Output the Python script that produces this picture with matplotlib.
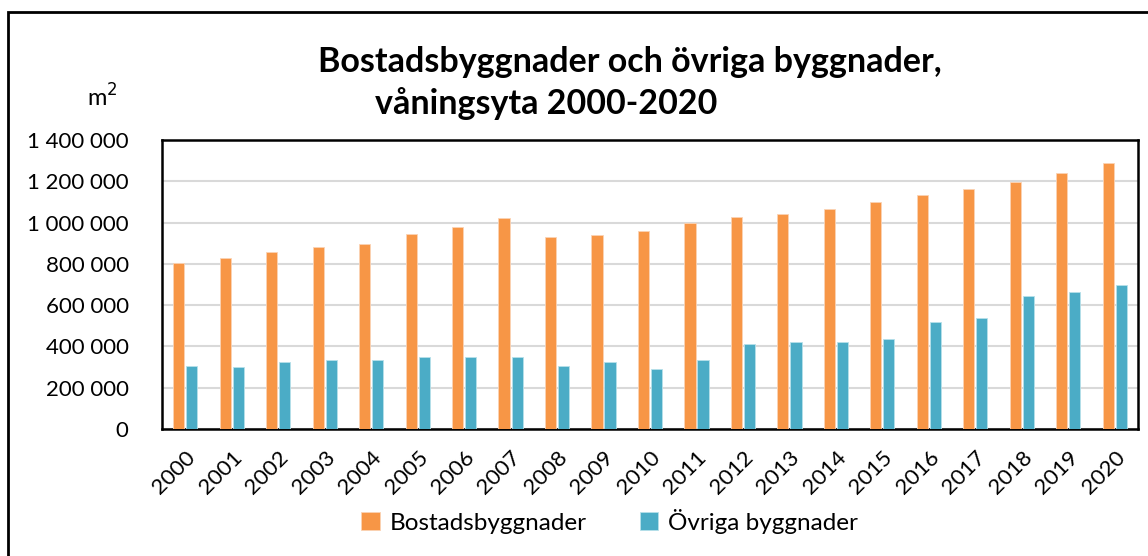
import matplotlib
matplotlib.use("Agg")
import matplotlib.pyplot as plt
import numpy as np
from matplotlib.patches import Rectangle

# ---------------------------------------------------------------------
# Data (m2 floor area)
# ---------------------------------------------------------------------
years = [str(y) for y in range(2000, 2021)]
bostad = [805000, 828000, 858000, 880000, 895000, 943000, 978000, 1020000,
          928000, 938000, 960000, 998000, 1027000, 1043000, 1065000,
          1100000, 1135000, 1165000, 1195000, 1240000, 1287000]
ovriga = [305000, 300000, 325000, 334000, 334000, 349000, 349000, 347000,
          305000, 325000, 290000, 334000, 412000, 420000, 420000,
          436000, 518000, 538000, 644000, 664000, 698000]
yticks = [0, 200000, 400000, 600000, 800000, 1000000, 1200000, 1400000]

ORANGE = "#f79646"
BLUE = "#4bacc6"
FONT = ["Lato", "DejaVu Sans"]

plt.rcParams["font.family"] = FONT

W, H = 1148, 556
fig = plt.figure(figsize=(W / 100, H / 100), dpi=100)
ax = fig.add_axes([162 / W, 1 - 429 / H, (1138 - 162) / W, (429 - 140) / H])

x = np.arange(len(years))
bw = 0.24
ax.bar(x - 0.14, bostad, bw, color=ORANGE, edgecolor="#fbd3b5", linewidth=0.6,
       label="Bostadsbyggnader", zorder=3)
ax.bar(x + 0.14, ovriga, bw, color=BLUE, edgecolor="#b7e0ea", linewidth=0.6,
       label="Övriga byggnader", zorder=3)

ax.set_xlim(-0.5, len(years) - 0.5)
ax.set_ylim(0, 1400000)
ax.set_yticks(yticks)
ax.set_yticklabels([f"{v:,}".replace(",", " ") for v in yticks], fontsize=16)
ax.set_xticks(x)
ax.set_xticklabels(years, rotation=45, ha="right", rotation_mode="anchor",
                   fontsize=16)
ax.tick_params(length=0)
ax.tick_params(axis="y", pad=24)
ax.tick_params(axis="x", pad=13)
ax.grid(axis="y", color="#d9d9d9", linewidth=1.5, zorder=0)
for s in ax.spines.values():
    s.set_color("black")
    s.set_linewidth(1.8)

# Titles and unit
fig.text(318 / W, 1 - 62 / H, "Bostadsbyggnader och övriga byggnader,",
         fontsize=24.5, fontweight="bold", va="center", ha="left")
fig.text(375 / W, 1 - 104 / H, "våningsyta 2000-2020",
         fontsize=24.5, fontweight="bold", va="center", ha="left")
fig.text(102 / W, 1 - 97 / H, "m$^2$", fontsize=17, va="center", ha="center")

# Legend
fig.legend(loc="center", bbox_to_anchor=(0.531, 1 - 521 / H), ncol=2,
           frameon=False, fontsize=17.5, handlelength=0.75, handleheight=0.75,
           handletextpad=0.4, columnspacing=2.2)

# Outer frame
fig.patches.append(Rectangle((8 / W, -0.05), 1.1, 1 - 12 / H + 0.05,
                             transform=fig.transFigure, fill=False,
                             edgecolor="black", linewidth=2))

fig.savefig("out.png", dpi=100)
